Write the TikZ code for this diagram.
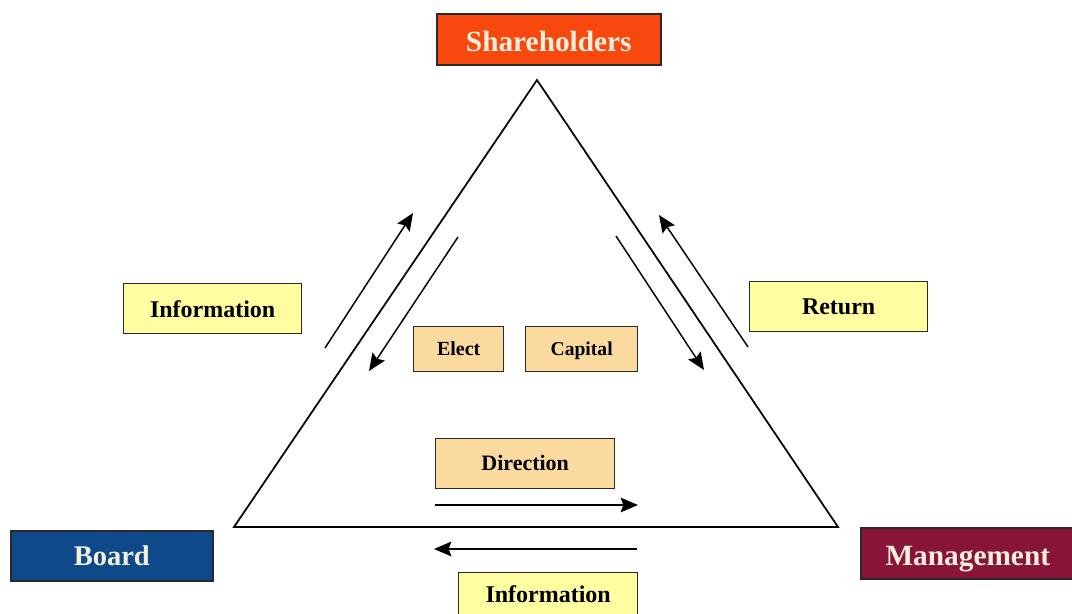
\documentclass[tikz,border=0pt]{standalone}
\usepackage{fontspec}
\setmainfont{Liberation Serif}
\usetikzlibrary{arrows.meta}
\definecolor{shcol}{HTML}{F8480E}
\definecolor{bdcol}{HTML}{0E4A8A}
\definecolor{mgcol}{HTML}{881538}
\definecolor{txcol}{HTML}{F6EEDC}
\definecolor{ylcol}{HTML}{FFFFA2}
\definecolor{tncol}{HTML}{FADA9E}
\definecolor{edcol}{HTML}{2A2A2A}
\tikzset{
  keybox/.style={draw=edcol, line width=1.2pt, text=txcol, font=\bfseries\fontsize{22}{24}\selectfont, inner sep=0pt, anchor=north west, text height=18.3pt, text depth=0pt},
  ylbox/.style={draw=edcol, line width=1pt, fill=ylcol, text=black, font=\bfseries\fontsize{18}{20}\selectfont, inner sep=0pt, anchor=north west},
  tnbox/.style={draw=edcol, line width=1pt, fill=tncol, text=black, inner sep=0pt, anchor=north west, text height=10pt, text depth=0pt},
  tri/.style={line width=1.3pt, black},
  flow/.style={line width=1.1pt, black, -{Stealth[length=13pt,width=11pt,inset=2pt]}}
}
\begin{document}
\begin{tikzpicture}[x=0.75pt,y=-0.75pt]
\useasboundingbox (0,0) rectangle (1072,614);
\clip (0,0) rectangle (1072,614);
\fill[white] (0,0) rectangle (1072,614);
% main boxes
\node[keybox, fill=shcol, minimum width=224*0.75pt, minimum height=51*0.75pt] (sh) at (436,13) {Shareholders};
\node[keybox, fill=bdcol, minimum width=202*0.75pt, minimum height=50*0.75pt, font=\bfseries\fontsize{21.4}{24}\selectfont, text height=14.1pt] (bd) at (10,530) {Board};
\node[keybox, fill=mgcol, minimum width=230*0.75pt, minimum height=51*0.75pt] (mg) at (860,527) {\hspace*{-12pt}Management};
% triangle
\coordinate (ta) at (537,80);
\coordinate (tl) at (234,527);
\coordinate (tr) at (838,527);
\draw[tri] (ta) -- (tl) -- (tr) -- cycle;
% label boxes
\node[ylbox, minimum width=178*0.75pt, minimum height=50*0.75pt] (infl) at (123,283) {Information};
\node[ylbox, minimum width=178*0.75pt, minimum height=50*0.75pt] (ret) at (749,281) {Return};
\node[tnbox, minimum width=90*0.75pt, minimum height=45*0.75pt, font=\bfseries\fontsize{15}{17}\selectfont] (el) at (413,326) {Elect};
\node[tnbox, minimum width=112*0.75pt, minimum height=45*0.75pt, font=\bfseries\fontsize{14.7}{17}\selectfont, text height=9.7pt] (cap) at (525,326) {Capital};
\node[tnbox, minimum width=179*0.75pt, minimum height=50*0.75pt, font=\bfseries\fontsize{16.5}{18}\selectfont, text height=10.9pt] (dir) at (435,438) {Direction};
\node[ylbox, minimum width=179*0.75pt, minimum height=50*0.75pt, anchor=north west] (infb) at (458,572) {\raisebox{5pt}{Information}};
% arrows
\coordinate (a1s) at (325,348); \coordinate (a1e) at (413,213);
\coordinate (a2s) at (458,237); \coordinate (a2e) at (369,371);
\coordinate (a3s) at (616,236); \coordinate (a3e) at (704,370);
\coordinate (a4s) at (748,347); \coordinate (a4e) at (659,215);
\coordinate (a5s) at (435,505); \coordinate (a5e) at (638,505);
\coordinate (a6s) at (637,549); \coordinate (a6e) at (434,549);
\draw[flow] (a1s) -- (a1e);
\draw[flow] (a2s) -- (a2e);
\draw[flow] (a3s) -- (a3e);
\draw[flow] (a4s) -- (a4e);
\draw[flow] (a5s) -- (a5e);
\draw[flow] (a6s) -- (a6e);
\end{tikzpicture}
\end{document}
